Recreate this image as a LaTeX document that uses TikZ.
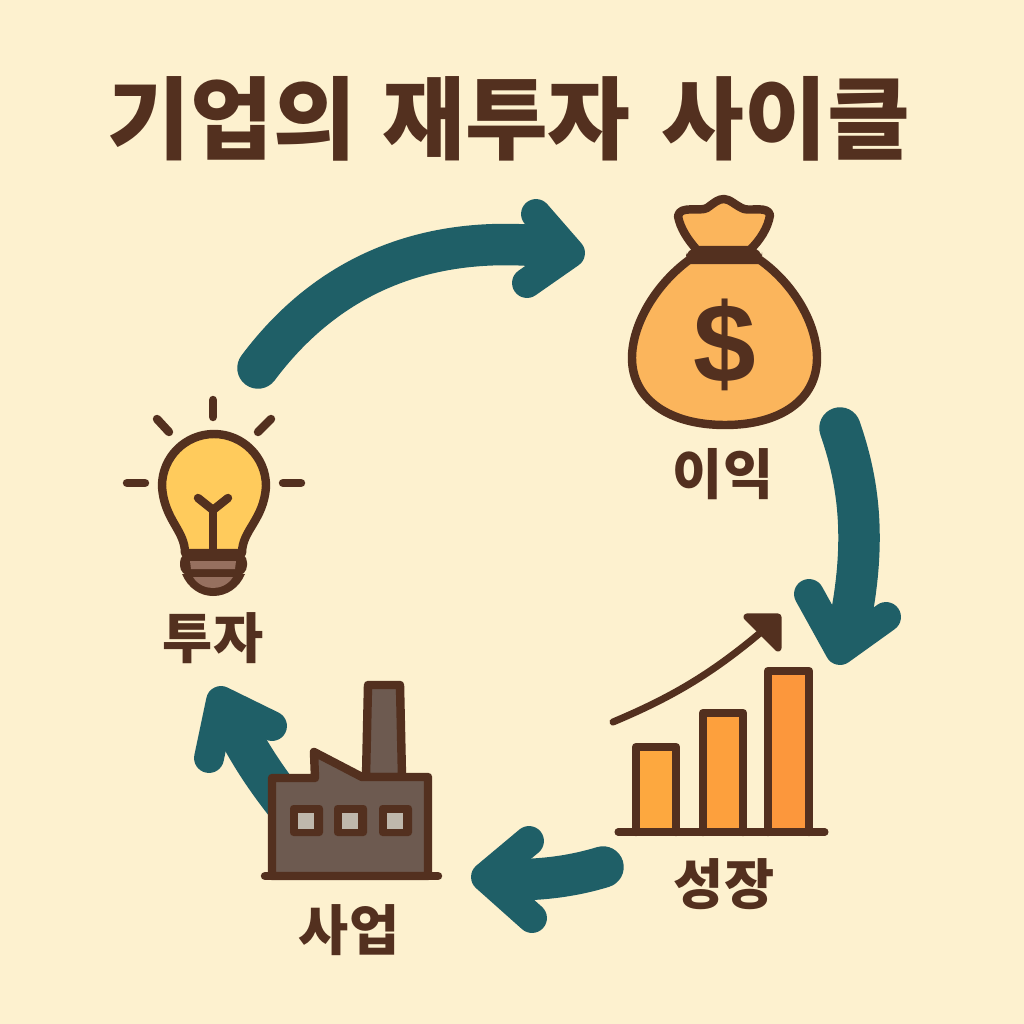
\documentclass[tikz,border=0pt]{standalone}
\usepackage{fontspec}
\setmainfont{Liberation Sans}
\newfontfamily\krfont{Noto Sans CJK KR}
\definecolor{paper}{HTML}{FDF1CF}
\definecolor{ink}{HTML}{53301F}
\definecolor{teal}{HTML}{1F5F67}
\definecolor{bulbfill}{HTML}{FFCB5C}
\definecolor{bagfill}{HTML}{FBB55C}
\definecolor{plantfill}{HTML}{6D5A50}
\definecolor{windowfill}{HTML}{BFB8AC}
\definecolor{basefill}{HTML}{96705F}
\definecolor{barone}{HTML}{FDA83F}
\definecolor{bartwo}{HTML}{FDA03D}
\definecolor{barthree}{HTML}{FC973C}
\tikzset{
	cycleline/.style={draw=teal,line width=11.8pt,line cap=round},
	cyclehead/.style={draw=teal,line width=8.5pt,line join=round,line cap=round},
	outline/.style={draw=ink,line width=2.4pt,line join=round,line cap=round},
	thinline/.style={draw=ink,line width=2pt,line cap=round,line join=round},
	label/.style={font=\krfont\bfseries\fontsize{15.5}{15.5}\selectfont,text=ink,inner sep=0pt},
}
\begin{document}
\begin{tikzpicture}[x=0.01cm,y=-0.01cm]
	\useasboundingbox (0,0) rectangle (1024,1024);
	\fill[paper] (0,0) rectangle (1024,1024);
	\node[font=\krfont\bfseries\fontsize{25.6}{25.6}\selectfont,text=ink,inner sep=0pt] (title) at (509,119) {기업의\hspace{1.6pt} 재투자\hspace{3pt} 사이클};
	\node[label] (profit) at (723,474) {이익};
	\node[label] (growth) at (724,884) {성장};
	\node[label] (business) at (349,930) {사업};
	\node[label] (invest) at (213,638) {투자};
	% cycle arrows
	\coordinate (A) at (258,368);\coordinate (B) at (550,247);
	\coordinate (A1) at (536,214);\coordinate (A2) at (570,253);\coordinate (A3) at (527,283);
	\coordinate (C) at (840,428);\coordinate (D) at (848,632);
	\coordinate (C1) at (809,594);\coordinate (C2) at (840,650);\coordinate (C3) at (886,617);
	\coordinate (E) at (603,867);\coordinate (F) at (505,880);
	\coordinate (E1) at (529,841);\coordinate (E2) at (486,877);\coordinate (E3) at (532,918);
	\coordinate (G) at (295,815);\coordinate (H) at (235,725);
	\coordinate (G1) at (272,726);\coordinate (G2) at (221,701);\coordinate (G3) at (209,758);
	\draw[cycleline] (A) .. controls (335,265) and (440,235) .. (B);
	\draw[cyclehead] (A1)--(A2)--(A3);
	\draw[cycleline] (C) .. controls (858,480) and (868,540) .. (D);
	\draw[cyclehead] (C1)--(C2)--(C3);
	\draw[cycleline] (E) .. controls (570,877) and (540,880) .. (F);
	\draw[cyclehead] (E1)--(E2)--(E3);
	\draw[cycleline] (G) .. controls (270,785) and (250,755) .. (H);
	\draw[cyclehead] (G1)--(G2)--(G3);
	% bulb
	\draw[outline,fill=bulbfill] (185,553) .. controls (185,530) and (164,520) .. (162,486) arc (180:360:52) .. controls (264,520) and (242,530) .. (242,553)--cycle;
	\draw[outline] (198,498)--(213,510)--(228,498);\draw[outline] (213,510)--(213,553);
	\draw[outline] (213,400)--(213,417);\draw[outline] (157,419)--(169,432);\draw[outline] (271,419)--(258,432);
	\draw[outline] (127,483)--(145,483);\draw[outline] (283,483)--(301,483);
	\fill[ink,rounded corners=3pt] (180,552) rectangle (247,576);
	\fill[ink] (182,574) .. controls (188,588) and (200,596) .. (213,596) .. controls (227,596) and (239,588) .. (245,574)--cycle;
	\fill[basefill] (190,561)--(236,561)--(235,569)--(191,569)--cycle;
	\fill[basefill] (193,577)--(233,577) .. controls (228,585) and (220,588) .. (213,588) .. controls (206,588) and (198,585) .. (193,577)--cycle;
	% money bag
	\draw[outline,fill=bagfill] (689,260) .. controls (655,285) and (632,325) .. (632,358) .. controls (632,400) and (670,425) .. (725,425) .. controls (780,425) and (817,400) .. (817,358) .. controls (817,325) and (795,285) .. (760,260)--cycle;
	\draw[outline,fill=bagfill] (697,250) .. controls (688,240) and (680,228) .. (678,216) .. controls (680,205) and (700,212) .. (707,208) .. controls (714,203) and (718,199) .. (724,199) .. controls (730,199) and (736,206) .. (744,209) .. controls (752,211) and (768,206) .. (770,215) .. controls (768,228) and (760,240) .. (750,250)--cycle;
	\fill[ink,rounded corners=3pt] (686,248) rectangle (762,263);
	\node[font=\bfseries\fontsize{32}{32}\selectfont,text=ink,inner sep=0pt] (dollar) at (725,345) {\$};
	% chart
	\draw[outline,fill=barone] (636,832)--(636,747)--(676,747)--(676,832);
	\draw[outline,fill=bartwo] (703,832)--(703,713)--(743,713)--(743,832);
	\draw[outline,fill=barthree] (768,832)--(768,671)--(809,671)--(809,832);
	\draw[thinline] (618,832)--(825,832);
	\draw[thinline] (613,722) .. controls (670,698) and (710,675) .. (760,633);
	\draw[thinline,fill=ink] (747,617)--(778,617)--(778,648)--cycle;
	% factory
	\draw[outline,fill=plantfill] (366,777)--(368,685)--(400,685)--(402,777)--cycle;
	\draw[outline,fill=plantfill] (272,876)--(272,778)--(315,778)--(314,752)--(362,777)--(428,777)--(428,876)--cycle;
	\draw[outline] (265,876)--(438,876);
	\fill[ink,rounded corners=1pt] (290,805) rectangle (323,836);
	\fill[ink,rounded corners=1pt] (334,805) rectangle (367,836);
	\fill[ink,rounded corners=1pt] (379,805) rectangle (412,836);
	\fill[windowfill] (298,813) rectangle (314,829);
	\fill[windowfill] (342,813) rectangle (358,829);
	\fill[windowfill] (387,813) rectangle (403,829);
\end{tikzpicture}
\end{document}
